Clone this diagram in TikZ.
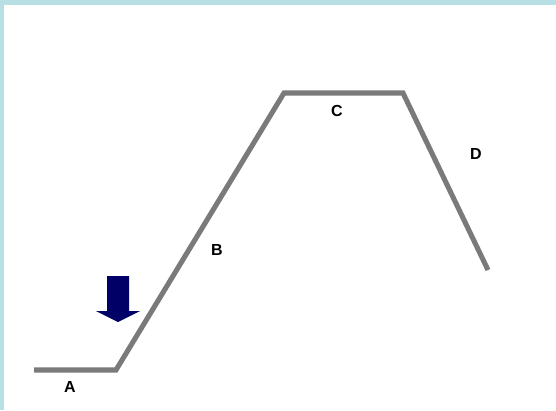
\documentclass[tikz,border=0pt]{standalone}
\usepackage{fontspec}
\setmainfont{Liberation Sans}
\begin{document}
\begin{tikzpicture}[x=0.75pt,y=-0.75pt,
  profile/.style={draw=black!52,line width=3.8pt,line join=miter},
  seglabel/.style={font=\fontsize{12}{12}\selectfont\bfseries,inner sep=0pt},
  pointer/.style={fill=navy,draw=none}]
\definecolor{navy}{HTML}{000066}
\definecolor{frame}{HTML}{B8DFE3}
\useasboundingbox (0,0) rectangle (556,410);
% frame along the top and left edges
\fill[frame] (0,0) rectangle (556,5);
\fill[frame] (0,0) rectangle (4,410);
% the profile
\coordinate (a0) at (34,370);
\coordinate (a1) at (116,370);
\coordinate (c0) at (284,93);
\coordinate (c1) at (403,93);
\coordinate (d1) at (488,270);
\draw[profile] (a0) -- (a1) -- (c0) -- (c1) -- (d1);
% segment labels
\node[seglabel] (la) at (70,387) {A};
\node[seglabel] (lb) at (217,250) {B};
\node[seglabel] (lc) at (337,111) {C};
\node[seglabel] (ld) at (476,154) {D};
% downward arrow
\fill[pointer] (107,276) -- (129,276) -- (129,311) -- (140,311) -- (118,322)
  -- (96,311) -- (107,311) -- cycle;
\end{tikzpicture}
\end{document}
